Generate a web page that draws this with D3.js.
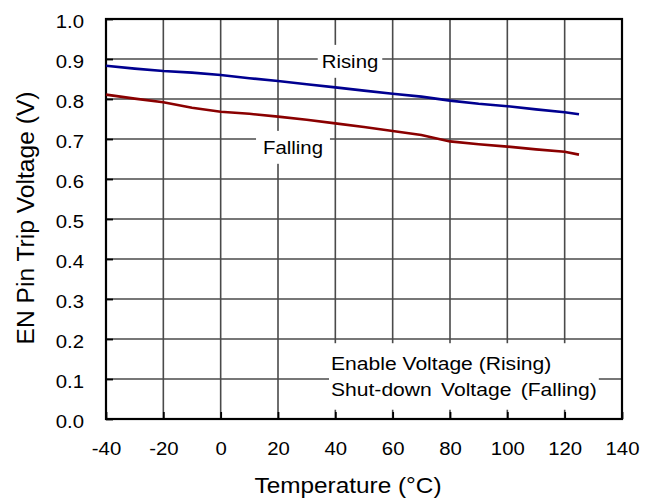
<!DOCTYPE html>
<html>
<head>
<meta charset="utf-8">
<script src="https://cdn.jsdelivr.net/npm/d3@7"></script>
<style>
  html, body { margin: 0; padding: 0; background: #fff; }
  svg { display: block; font-family: "Liberation Sans", Arial, sans-serif; }
</style>
</head>
<body>
<svg id="chart" width="657" height="500"></svg>
<script>
// Temperature sweep (°C)
const temperature = [-40, -30, -20, -10, 0, 10, 20, 30, 40, 50, 60, 70, 80, 90, 100, 110, 120, 125];
// EN pin thresholds (V)
const risingV  = [0.883, 0.876, 0.870, 0.866, 0.860, 0.852, 0.845, 0.837, 0.829, 0.821, 0.813, 0.806, 0.796, 0.788, 0.782, 0.774, 0.767, 0.762];
const fallingV = [0.811, 0.801, 0.792, 0.778, 0.768, 0.763, 0.756, 0.748, 0.739, 0.730, 0.720, 0.710, 0.694, 0.687, 0.681, 0.674, 0.668, 0.661];

const xTicks = [-40, -20, 0, 20, 40, 60, 80, 100, 120, 140];
const yTicks = [0.0, 0.1, 0.2, 0.3, 0.4, 0.5, 0.6, 0.7, 0.8, 0.9, 1.0];

const xTitle = "Temperature (°C)";
const yTitle = "EN Pin Trip Voltage (V)";
const legendLines = ["Enable Voltage (Rising)", "Shut-down Voltage (Falling)"];

const plot = { left: 106, right: 622, top: 19, bottom: 419 };
const sx = 1.1; // horizontal stretch of the typeface

const svg = d3.select("#chart");
const x = d3.scaleLinear().domain([-40, 140]).range([plot.left, plot.right]);
const y = d3.scaleLinear().domain([0, 1]).range([plot.bottom, plot.top]);

// grid
const grid = svg.append("g").attr("stroke", "#4a4a4a").attr("stroke-width", 1.6);
grid.selectAll(".vg").data(xTicks.slice(1, -1)).join("line")
  .attr("x1", d => x(d)).attr("x2", d => x(d))
  .attr("y1", plot.top).attr("y2", plot.bottom);
grid.selectAll(".hg").data(yTicks.slice(1, -1)).join("line")
  .attr("x1", plot.left).attr("x2", plot.right)
  .attr("y1", d => y(d)).attr("y2", d => y(d));

// white boxes behind in-plot text are placed later (they need text extents)
const boxLayer = svg.append("g");

// axes with inward ticks
const xAxis = svg.append("g").attr("transform", `translate(0,${plot.bottom})`)
  .call(d3.axisBottom(x).tickValues(xTicks).tickSize(-7).tickPadding(23).tickFormat(d => String(d)));
const yAxis = svg.append("g").attr("transform", `translate(${plot.left},0)`)
  .call(d3.axisLeft(y).tickValues(yTicks).tickSize(-7).tickPadding(22).tickFormat(d => d.toFixed(1)));
[xAxis, yAxis].forEach(a => {
  a.select(".domain").remove();
  a.selectAll(".tick line").attr("stroke", "#000").attr("stroke-width", 1.8);
  a.selectAll(".tick text").attr("fill", "#000").style("font-size", "18.5px")
    .style("font-family", "'Liberation Sans', Arial, sans-serif");
});
xAxis.selectAll(".tick text").attr("transform", `scale(${sx},1)`);
yAxis.selectAll(".tick text").attr("dy", "0.45em")
  .attr("transform", `scale(${sx},1)`).attr("x", -22 / sx);

// frame
svg.append("rect")
  .attr("x", plot.left).attr("y", plot.top)
  .attr("width", plot.right - plot.left).attr("height", plot.bottom - plot.top)
  .attr("fill", "none").attr("stroke", "#000").attr("stroke-width", 2.2);

// series
const line = d3.line().x(d => x(d[0])).y(d => y(d[1]));
svg.append("path").datum(temperature.map((t, i) => [t, risingV[i]]))
  .attr("d", line).attr("fill", "none").attr("stroke", "#000090").attr("stroke-width", 2.6);
svg.append("path").datum(temperature.map((t, i) => [t, fallingV[i]]))
  .attr("d", line).attr("fill", "none").attr("stroke", "#8a0000").attr("stroke-width", 2.6);

// text helper with horizontal stretch
function label(px, py, str, size, anchor, stretch) {
  return svg.append("text")
    .attr("transform", `translate(${px},${py}) scale(${stretch || sx},1)`)
    .attr("text-anchor", anchor || "start")
    .style("font-size", size + "px")
    .text(str);
}
function boxBehind(nodes, padX, padY) {
  let x0 = Infinity, y0 = Infinity, x1 = -Infinity, y1 = -Infinity;
  nodes.forEach(n => {
    const b = n.node().getBoundingClientRect();
    x0 = Math.min(x0, b.left); y0 = Math.min(y0, b.top);
    x1 = Math.max(x1, b.right); y1 = Math.max(y1, b.bottom);
  });
  boxLayer.append("rect")
    .attr("x", x0 - padX).attr("y", y0 - padY)
    .attr("width", x1 - x0 + 2 * padX).attr("height", y1 - y0 + 2 * padY)
    .attr("fill", "#fff");
}

const tRise = label(350, 68, "Rising", 18.5, "middle");
boxBehind([tRise], 4, 6);
const tFall = label(293, 154, "Falling", 18.5, "middle");
boxBehind([tFall], 7, 6);
const l1 = label(331, 370, legendLines[0], 18.5, "start", 1.14);
const l2 = label(331, 396, legendLines[1], 18.5, "start", 1.14);
l2.attr("word-spacing", "3px");
boxBehind([l1, l2], 2, 10);

// axis titles
svg.append("text")
  .attr("x", 348).attr("y", 493)
  .attr("text-anchor", "middle")
  .attr("textLength", 187).attr("lengthAdjust", "spacingAndGlyphs")
  .style("font-size", "22px")
  .text(xTitle);
svg.append("text")
  .attr("transform", "translate(34,218) rotate(-90)")
  .attr("text-anchor", "middle")
  .attr("textLength", 253).attr("lengthAdjust", "spacingAndGlyphs")
  .style("font-size", "23px")
  .text(yTitle);
</script>
</body>
</html>
